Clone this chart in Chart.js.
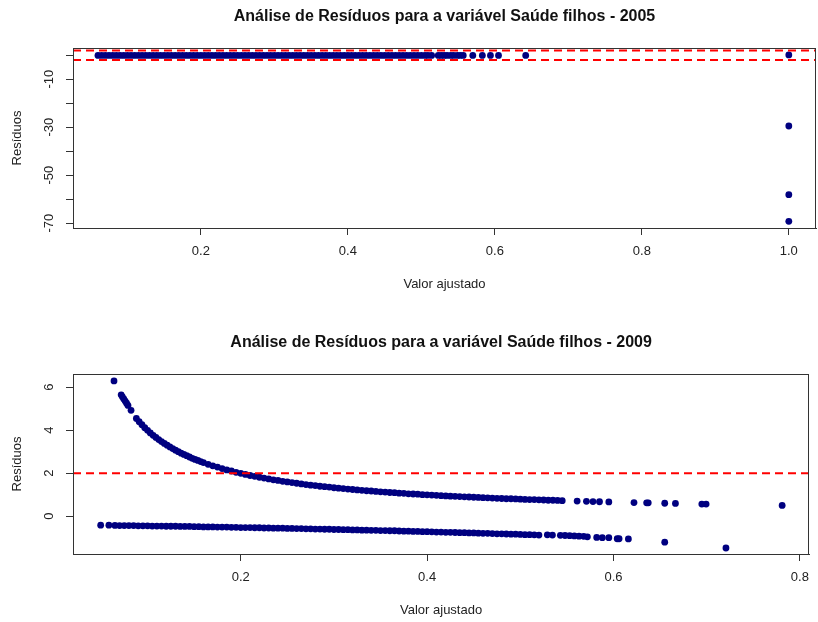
<!DOCTYPE html>
<html>
<head>
<meta charset="utf-8">
<title>Análise de Resíduos</title>
<script src="https://cdn.jsdelivr.net/npm/chart.js@4.4.1/dist/chart.umd.min.js"></script>
<style>
  body { margin: 0; background: #fff; }
  #wrap { position: relative; width: 818px; height: 622px; }
  .panel { position: absolute; left: 0; width: 818px; height: 296px; }
</style>
</head>
<body>
<div id="wrap">
  <div class="panel" style="top:0"><canvas id="chart2005" width="818" height="296"></canvas></div>
  <div class="panel" style="top:326px"><canvas id="chart2009" width="818" height="296"></canvas></div>
</div>
<script>
// ----------------- Data -----------------

// 2005: fitted values and residuals
const fitted05 = [
  0.060, 0.065, 0.070, 0.075, 0.080, 0.085, 0.090, 0.095, 0.100, 0.105, 0.110, 0.115, 0.120, 0.125, 0.130,
  0.135, 0.140, 0.145, 0.150, 0.155, 0.160, 0.165, 0.170, 0.175, 0.180, 0.185, 0.190, 0.195, 0.200, 0.205,
  0.210, 0.215, 0.220, 0.225, 0.230, 0.235, 0.240, 0.245, 0.250, 0.255, 0.260, 0.265, 0.270, 0.275, 0.280,
  0.285, 0.290, 0.295, 0.300, 0.305, 0.310, 0.315, 0.320, 0.325, 0.330, 0.335, 0.340, 0.345, 0.350, 0.355,
  0.360, 0.365, 0.370, 0.375, 0.380, 0.385, 0.390, 0.395, 0.400, 0.405, 0.410, 0.415, 0.420, 0.425, 0.430,
  0.435, 0.440, 0.445, 0.450, 0.455, 0.460, 0.465, 0.470, 0.475, 0.480, 0.485, 0.490, 0.495, 0.500,
  0.505, 0.509, 0.514, 0.523, 0.527, 0.531, 0.535, 0.540, 0.544, 0.549, 0.553, 0.557,
  0.570, 0.583, 0.594, 0.605, 0.642,
  1.000, 1.000, 1.000, 1.000
];
const resid05 = [
  -0.1, -0.1, -0.1, -0.1, -0.1, -0.1, -0.1, -0.1, -0.1, -0.1, -0.1, -0.1, -0.1, -0.1, -0.1,
  -0.1, -0.1, -0.1, -0.1, -0.1, -0.1, -0.1, -0.1, -0.1, -0.1, -0.1, -0.1, -0.1, -0.1, -0.1,
  -0.1, -0.1, -0.1, -0.1, -0.1, -0.1, -0.1, -0.1, -0.1, -0.1, -0.1, -0.1, -0.1, -0.1, -0.1,
  -0.1, -0.1, -0.1, -0.1, -0.1, -0.1, -0.1, -0.1, -0.1, -0.1, -0.1, -0.1, -0.1, -0.1, -0.1,
  -0.1, -0.1, -0.1, -0.1, -0.1, -0.1, -0.1, -0.1, -0.1, -0.1, -0.1, -0.1, -0.1, -0.1, -0.1,
  -0.1, -0.1, -0.1, -0.1, -0.1, -0.1, -0.1, -0.1, -0.1, -0.1, -0.1, -0.1, -0.1, -0.1,
  -0.1, -0.1, -0.1, -0.1, -0.1, -0.1, -0.1, -0.1, -0.1, -0.1, -0.1, -0.1,
  -0.1, -0.1, -0.1, -0.1, -0.1,
  0.1, -29.5, -58.1, -69.2
];

// 2009: upper branch
const fitted09Hi = [
  0.064, 0.0717, 0.073, 0.0745, 0.076, 0.0775, 0.079, 0.0823,
  0.088, 0.091, 0.094, 0.097, 0.100, 0.103, 0.106, 0.109, 0.112, 0.115, 0.118, 0.121, 0.124,
  0.127, 0.130, 0.133, 0.136, 0.139, 0.142, 0.145, 0.148, 0.151, 0.154, 0.157, 0.160,
  0.165, 0.170, 0.175, 0.180, 0.185, 0.190, 0.195, 0.200, 0.205, 0.210, 0.215, 0.220, 0.225,
  0.230, 0.235, 0.240, 0.245, 0.250, 0.255, 0.260, 0.265, 0.270, 0.275, 0.280, 0.285, 0.290,
  0.295, 0.300, 0.305, 0.310, 0.315, 0.320, 0.325, 0.330, 0.335, 0.340, 0.345, 0.350, 0.355,
  0.360, 0.365, 0.370, 0.375, 0.380, 0.385, 0.390, 0.395, 0.400, 0.405, 0.410, 0.415, 0.420,
  0.425, 0.430, 0.435, 0.440, 0.445, 0.450, 0.455, 0.460, 0.465, 0.470, 0.475, 0.480, 0.485,
  0.490, 0.495, 0.500, 0.505, 0.510, 0.515, 0.520, 0.525, 0.530, 0.535, 0.540, 0.545,
  0.561, 0.571, 0.578, 0.585, 0.595, 0.622, 0.6356, 0.6373, 0.655, 0.6665, 0.6948, 0.6994, 0.781
];
const resid09Hi = [
  6.29, 5.64, 5.55, 5.45, 5.35, 5.25, 5.15, 4.92,
  4.54, 4.39, 4.25, 4.11, 3.99, 3.87, 3.76, 3.66, 3.56, 3.47, 3.38, 3.30, 3.22,
  3.14, 3.07, 3.00, 2.93, 2.87, 2.81, 2.75, 2.69, 2.64, 2.59, 2.54, 2.49,
  2.41, 2.34, 2.28, 2.21, 2.15, 2.10, 2.04, 1.99, 1.94, 1.89, 1.85, 1.81, 1.77,
  1.73, 1.69, 1.66, 1.62, 1.59, 1.56, 1.53, 1.50, 1.47, 1.44, 1.42, 1.39, 1.37,
  1.35, 1.32, 1.30, 1.28, 1.26, 1.24, 1.22, 1.20, 1.18, 1.17, 1.15, 1.13, 1.12,
  1.10, 1.09, 1.07, 1.06, 1.04, 1.03, 1.02, 1.00, 0.99, 0.98, 0.97, 0.95, 0.94,
  0.93, 0.92, 0.91, 0.90, 0.89, 0.88, 0.87, 0.86, 0.85, 0.84, 0.83, 0.82, 0.81,
  0.81, 0.80, 0.79, 0.78, 0.77, 0.77, 0.76, 0.75, 0.74, 0.74, 0.73, 0.72,
  0.70, 0.69, 0.68, 0.67, 0.66, 0.63, 0.62, 0.62, 0.60, 0.59, 0.56, 0.56, 0.50
];

// 2009: lower branch
const fitted09Lo = [
  0.0497, 0.0585,
  0.065, 0.070, 0.075, 0.080, 0.085, 0.090, 0.095, 0.100, 0.105, 0.110, 0.115, 0.120, 0.125,
  0.130, 0.135, 0.140, 0.145, 0.150, 0.155, 0.160, 0.165, 0.170, 0.175, 0.180, 0.185, 0.190,
  0.195, 0.200, 0.205, 0.210, 0.215, 0.220, 0.225, 0.230, 0.235, 0.240, 0.245, 0.250, 0.255,
  0.260, 0.265, 0.270, 0.275, 0.280, 0.285, 0.290, 0.295, 0.300, 0.305, 0.310, 0.315, 0.320,
  0.325, 0.330, 0.335, 0.340, 0.345, 0.350, 0.355, 0.360, 0.365, 0.370, 0.375, 0.380, 0.385,
  0.390, 0.395, 0.400, 0.405, 0.410, 0.415, 0.420, 0.425, 0.430, 0.435, 0.440, 0.445, 0.450,
  0.455, 0.460, 0.465, 0.470, 0.475, 0.480, 0.485, 0.490, 0.495, 0.500, 0.505, 0.510, 0.515, 0.520,
  0.529, 0.5345, 0.543, 0.548, 0.553, 0.558, 0.563, 0.568, 0.572, 0.582, 0.588, 0.595,
  0.604, 0.606, 0.616, 0.655, 0.7207
];
const resid09Lo = [
  -0.42, -0.42,
  -0.43, -0.44, -0.44, -0.44, -0.44, -0.45, -0.45, -0.45, -0.46, -0.46, -0.46, -0.47, -0.47,
  -0.47, -0.48, -0.48, -0.48, -0.49, -0.49, -0.50, -0.50, -0.50, -0.51, -0.51, -0.51, -0.52,
  -0.52, -0.53, -0.53, -0.53, -0.54, -0.54, -0.55, -0.55, -0.56, -0.56, -0.56, -0.57, -0.57,
  -0.58, -0.58, -0.59, -0.59, -0.60, -0.60, -0.61, -0.61, -0.62, -0.62, -0.63, -0.63, -0.64,
  -0.64, -0.65, -0.65, -0.66, -0.66, -0.67, -0.67, -0.68, -0.68, -0.69, -0.70, -0.70, -0.71,
  -0.71, -0.72, -0.72, -0.73, -0.74, -0.74, -0.75, -0.75, -0.76, -0.77, -0.77, -0.78, -0.78,
  -0.79, -0.80, -0.80, -0.81, -0.82, -0.82, -0.83, -0.84, -0.84, -0.85, -0.86, -0.86, -0.87, -0.88,
  -0.87, -0.88, -0.89, -0.90, -0.91, -0.92, -0.93, -0.94, -0.96, -0.99, -1.00, -1.00,
  -1.05, -1.05, -1.06, -1.21, -1.48
];

// reference lines (red dashed)
const refLines05 = [2, -2];
const refLines09 = [2];

// ticks
const xTicks05 = [0.2, 0.4, 0.6, 0.8, 1.0];
const xTickLabels05 = ['0.2', '0.4', '0.6', '0.8', '1.0'];
const yTicks05 = [0, -10, -20, -30, -40, -50, -60, -70];
const yTickLabels05 = ['', '-10', '', '-30', '', '-50', '', '-70'];

const xTicks09 = [0.2, 0.4, 0.6, 0.8];
const xTickLabels09 = ['0.2', '0.4', '0.6', '0.8'];
const yTicks09 = [0, 2, 4, 6];
const yTickLabels09 = ['0', '2', '4', '6'];

// ----------------- Helpers -----------------
const FONT = '"Liberation Sans", Arial, sans-serif';
const INK = '#333333';
const NAVY = '#000080';

const toPoints = (xs, ys) => xs.map((x, i) => ({ x, y: ys[i] }));

// box around the plot region, like R's box()
const framePlugin = {
  id: 'frame',
  afterDraw(chart) {
    const { ctx, chartArea: a } = chart;
    ctx.save();
    ctx.strokeStyle = INK;
    ctx.lineWidth = 1;
    ctx.strokeRect(Math.round(a.left) + 0.5, Math.round(a.top) + 0.5,
      Math.round(a.right - a.left) - 1, Math.round(a.bottom - a.top));
    ctx.restore();
  }
};

function makeChart(id, opts) {
  const datasets = opts.series.map(s => ({
    data: toPoints(s.x, s.y),
    xAxisID: 'x',
    yAxisID: 'y',
    backgroundColor: NAVY,
    borderColor: NAVY,
    pointRadius: 3.4,
    pointBorderWidth: 0,
    showLine: false,
    order: 2
  }));

  opts.refLines.forEach(v => {
    datasets.push({
      data: [{ x: opts.xMin, y: v }, { x: opts.xMax, y: v }],
      xAxisID: 'x',
      yAxisID: 'y',
      showLine: true,
      borderColor: '#ff0000',
      borderWidth: 2,
      borderDash: [8, 5],
      pointRadius: 0,
      order: 1
    });
  });

  return new Chart(document.getElementById(id), {
    type: 'scatter',
    data: { datasets },
    options: {
      responsive: false,
      animation: false,
      events: [],
      layout: { autoPadding: false, padding: { left: 0, right: 2, top: 0, bottom: 0 } },
      plugins: { legend: { display: false }, tooltip: { enabled: false }, title: { display: false } },
      scales: {
        x: {
          type: 'linear',
          position: 'bottom',
          min: opts.xMin,
          max: opts.xMax,
          afterBuildTicks: s => { s.ticks = opts.xTicks.map(v => ({ value: v })); },
          ticks: {
            autoSkip: false,
            maxRotation: 0,
            padding: 9,
            color: '#222',
            font: { family: FONT, size: 13 },
            callback: (v, i) => opts.xTickLabels[i]
          },
          grid: { drawOnChartArea: false, tickLength: 7, color: INK },
          border: { display: true, color: INK },
          title: {
            display: true,
            text: 'Valor ajustado',
            color: '#222',
            font: { family: FONT, size: 13 },
            padding: { top: 0, bottom: 4 }
          },
          afterFit: s => { s.height = 68; }
        },
        y: {
          type: 'linear',
          position: 'left',
          min: opts.yMin,
          max: opts.yMax,
          afterBuildTicks: s => { s.ticks = opts.yTicks.map(v => ({ value: v })); },
          ticks: {
            autoSkip: false,
            minRotation: 90,
            maxRotation: 90,
            crossAlign: 'center',
            padding: opts.yPad,
            color: '#222',
            font: { family: FONT, size: 13 },
            callback: (v, i) => opts.yTickLabels[i]
          },
          grid: { drawOnChartArea: false, tickLength: 7, color: INK },
          border: { display: true, color: INK },
          title: {
            display: true,
            text: 'Resíduos',
            color: '#222',
            font: { family: FONT, size: 13 },
            padding: { top: 10, bottom: 0 }
          },
          afterFit: s => { s.width = 73; }
        },
        // holds the main title, centred over the plot region
        top: {
          type: 'linear',
          axis: 'x',
          position: 'top',
          grid: { display: false },
          border: { display: false },
          ticks: { display: false },
          title: {
            display: true,
            text: opts.title,
            color: '#111',
            font: { family: FONT, size: 16, weight: 'bold' },
            padding: { top: 6.9, bottom: 0 }
          },
          afterFit: s => { s.height = 48; }
        }
      }
    },
    plugins: [framePlugin]
  });
}

// ----------------- Charts -----------------
makeChart('chart2005', {
  title: 'Análise de Resíduos para a variável Saúde filhos - 2005',
  series: [{ x: fitted05, y: resid05 }],
  refLines: refLines05,
  xMin: 0.026, xMax: 1.037, yMin: -72, yMax: 3,
  xTicks: xTicks05, xTickLabels: xTickLabels05,
  yTicks: yTicks05, yTickLabels: yTickLabels05,
  yPad: 7
});

makeChart('chart2009', {
  title: 'Análise de Resíduos para a variável Saúde filhos - 2009',
  series: [{ x: fitted09Hi, y: resid09Hi }, { x: fitted09Lo, y: resid09Lo }],
  refLines: refLines09,
  xMin: 0.020, xMax: 0.810, yMin: -1.76, yMax: 6.61,
  xTicks: xTicks09, xTickLabels: xTickLabels09,
  yTicks: yTicks09, yTickLabels: yTickLabels09,
  yPad: 13
});
</script>
</body>
</html>
